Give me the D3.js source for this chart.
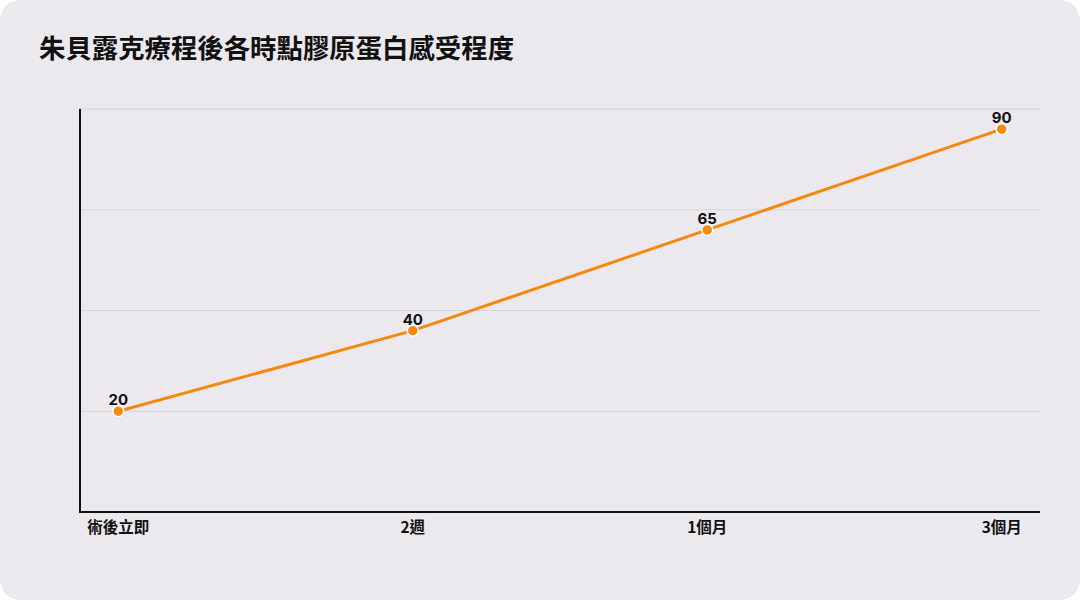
<!DOCTYPE html>
<html>
<head>
<meta charset="utf-8">
<script src="https://cdn.jsdelivr.net/npm/d3@7/dist/d3.min.js"></script>
<style>
  html, body { margin: 0; padding: 0; background: #ffffff; }
  svg { display: block; }
</style>
</head>
<body>
<div id="chart"></div>
<script>
// chart data
var title = "朱貝露克療程後各時點膠原蛋白感受程度";
var stages = ["術後立即", "2週", "1個月", "3個月"];
var scores = [20, 40, 65, 90];
var gridTicks = [20, 45, 70, 95];

var width = 1080,
    height = 600;

var margin = {top: 109, right: 40, bottom: 88, left: 80};

var svg = d3.select("#chart").append("svg")
    .attr("width", width)
    .attr("height", height);

svg.append("rect")
    .attr("x", 0).attr("y", 0)
    .attr("width", width).attr("height", height)
    .attr("rx", 20).attr("ry", 20)
    .style("fill", "#ebe9ee");

svg.append("text")
    .attr("x", 39)
    .attr("y", 58)
    .style("font-family", "'Noto Sans CJK TC', 'Noto Sans', sans-serif")
    .style("font-size", "26.4px")
    .style("font-weight", "bold")
    .style("fill", "#111")
    .text(title);

var x = d3.scalePoint()
    .domain(stages)
    .range([margin.left, width - margin.right])
    .padding(0.13);

var y = d3.scaleLinear()
    .domain([-5, 95])
    .range([height - margin.bottom, margin.top]);

// gridlines
svg.append("g")
    .selectAll("line")
    .data(gridTicks)
    .enter().append("line")
    .attr("x1", margin.left)
    .attr("x2", width - margin.right)
    .attr("y1", function(d) { return y(d); })
    .attr("y2", function(d) { return y(d); })
    .style("stroke", "#d6d4d9")
    .style("stroke-width", 1);

// axes
svg.append("line")
    .attr("x1", margin.left).attr("x2", margin.left)
    .attr("y1", y(95)).attr("y2", y(-5))
    .style("stroke", "#111")
    .style("stroke-width", 2);

svg.append("line")
    .attr("x1", margin.left - 1).attr("x2", width - margin.right)
    .attr("y1", y(-5)).attr("y2", y(-5))
    .style("stroke", "#111")
    .style("stroke-width", 2);

svg.append("g")
    .selectAll("text")
    .data(stages)
    .enter().append("text")
    .attr("x", function(d) { return x(d); })
    .attr("y", 533)
    .attr("text-anchor", "middle")
    .style("font-family", "'Noto Sans CJK TC', 'Noto Sans', sans-serif")
    .style("font-size", "15.5px")
    .style("font-weight", "bold")
    .style("fill", "#111")
    .text(function(d) { return d; });

var points = stages.map(function(s, i) { return {stage: s, value: scores[i]}; });

var line = d3.line()
    .x(function(d) { return x(d.stage); })
    .y(function(d) { return y(d.value); });

svg.append("path")
    .datum(points)
    .attr("d", line)
    .style("fill", "none")
    .style("stroke", "#f5890f")
    .style("stroke-width", 3);

svg.append("g")
    .selectAll("circle")
    .data(points)
    .enter().append("circle")
    .attr("cx", function(d) { return x(d.stage); })
    .attr("cy", function(d) { return y(d.value); })
    .attr("r", 5.5)
    .style("fill", "#f5890f")
    .style("stroke", "#ffffff")
    .style("stroke-width", 1.5);

svg.append("g")
    .selectAll("text")
    .data(points)
    .enter().append("text")
    .attr("x", function(d) { return x(d.stage); })
    .attr("y", function(d) { return y(d.value) - 6; })
    .attr("text-anchor", "middle")
    .style("font-family", "Inter, 'Noto Sans', sans-serif")
    .style("font-size", "15px")
    .style("font-weight", "bold")
    .style("fill", "#111")
    .text(function(d) { return d.value; });
</script>
</body>
</html>
